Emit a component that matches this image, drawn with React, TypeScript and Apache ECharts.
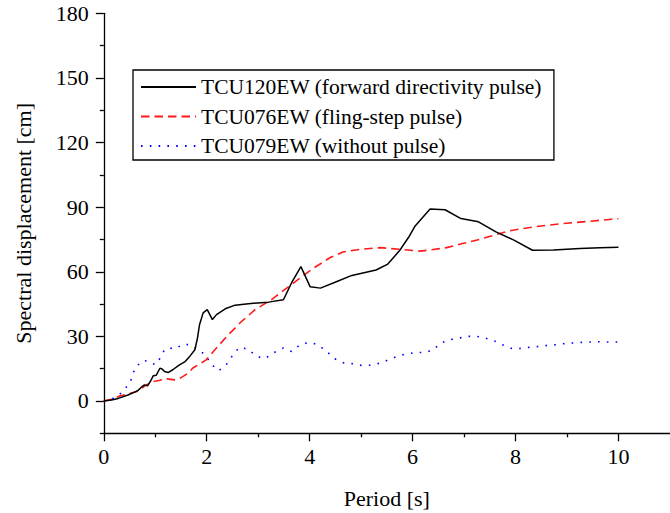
import React, { useEffect, useRef } from 'react';
import * as echarts from 'echarts';

// TCU120EW (forward directivity pulse)
const periods120 = [0, 0.15, 0.28, 0.47, 0.66, 0.73, 0.79, 0.85, 0.91, 0.96, 1.02, 1.09, 1.13, 1.18, 1.25, 1.34, 1.47, 1.58, 1.67, 1.77, 1.82, 1.86, 1.93, 2.01, 2.11, 2.19, 2.36, 2.55, 2.81, 3.2, 3.49, 3.65, 3.83, 4.01, 4.21, 4.53, 4.82, 5.29, 5.51, 5.74, 5.92, 6.05, 6.34, 6.63, 6.94, 7.28, 7.62, 7.96, 8.33, 8.74, 9.25, 9.64, 10.0];
const disp120 = [0, 0.5, 1.2, 2.8, 4.8, 6.4, 7.5, 7.0, 9.3, 11.7, 12.0, 15.2, 14.9, 13.7, 13.2, 14.5, 16.8, 18.3, 20.7, 23.8, 29.2, 35.4, 40.9, 42.4, 37.8, 40.1, 42.8, 44.5, 45.2, 45.9, 47.0, 54.9, 62.4, 53.0, 52.4, 55.5, 58.3, 60.8, 63.4, 69.6, 75.9, 81.3, 89.1, 88.8, 84.7, 83.2, 78.5, 74.8, 70.0, 70.1, 70.8, 71.2, 71.4];

// TCU076EW (fling-step pulse)
const periods076 = [0, 0.15, 0.31, 0.44, 0.63, 0.83, 0.96, 1.09, 1.18, 1.38, 1.47, 1.64, 1.73, 1.89, 1.99, 2.13, 2.39, 2.68, 2.94, 3.26, 3.52, 3.81, 4.07, 4.4, 4.65, 4.98, 5.37, 5.76, 6.14, 6.34, 6.66, 6.99, 7.31, 7.64, 7.89, 8.15, 8.41, 8.93, 9.38, 9.87, 10.0];
const disp076 = [0, 0.8, 2.3, 3.1, 4.3, 7.5, 9.0, 9.6, 10.4, 9.8, 10.4, 12.9, 15.3, 17.6, 19.1, 23.0, 30.0, 37.0, 42.4, 47.1, 51.8, 57.0, 61.6, 66.6, 69.2, 70.4, 71.2, 70.4, 69.6, 70.1, 71.2, 73.2, 75.1, 77.4, 79.0, 80.1, 81.0, 82.4, 83.3, 84.4, 84.6];

// TCU079EW (without pulse)
const periods079 = [0, 0.18, 0.31, 0.42, 0.52, 0.57, 0.63, 0.7, 0.76, 0.9, 1.0, 1.09, 1.18, 1.28, 1.38, 1.54, 1.67, 1.82, 1.97, 2.08, 2.23, 2.37, 2.49, 2.63, 2.8, 2.97, 3.13, 3.31, 3.49, 3.65, 3.83, 4.01, 4.17, 4.33, 4.49, 4.67, 4.85, 5.01, 5.19, 5.37, 5.53, 5.7, 5.87, 6.05, 6.21, 6.39, 6.55, 6.73, 6.9, 7.07, 7.25, 7.41, 7.58, 7.75, 7.93, 8.09, 8.26, 8.44, 8.61, 8.78, 8.94, 9.11, 9.29, 9.46, 9.62, 9.79, 10.0];
const disp079 = [0, 1.2, 3.1, 5.9, 9.0, 12.9, 16.3, 17.3, 18.8, 18.3, 16.8, 19.7, 23.8, 24.6, 24.1, 26.4, 26.1, 24.1, 21.5, 17.3, 14.0, 16.5, 20.7, 24.9, 24.1, 20.7, 19.7, 22.5, 24.6, 23.0, 26.4, 27.2, 26.1, 23.0, 19.6, 17.6, 17.3, 16.5, 16.6, 17.6, 19.1, 20.7, 21.8, 22.5, 22.5, 23.5, 26.9, 28.5, 29.2, 30.0, 30.0, 29.2, 28.0, 26.1, 24.4, 24.4, 24.9, 25.3, 25.8, 26.1, 26.6, 26.9, 27.2, 27.4, 27.5, 27.4, 27.4];

const seriesNames = ['TCU120EW (forward directivity pulse)', 'TCU076EW (fling-step pulse)', 'TCU079EW (without pulse)'];

const xMajorTicks = [0, 2, 4, 6, 8, 10];
const xMinorTicks = [1, 3, 5, 7, 9];
const yMajorTicks = [0, 30, 60, 90, 120, 150, 180];
const yMinorTicks = [-15, 15, 45, 75, 105, 135, 165];

const FONT = 'Liberation Serif';

export default function App() {
  const ref = useRef<HTMLDivElement>(null);
  useEffect(() => {
    const chart = echarts.init(ref.current as HTMLDivElement, null, { renderer: 'svg' });
    const pair = (xs: number[], ys: number[]) => xs.map((x, i) => [x, ys[i]]);
    const axisLineStyle = { color: '#000', width: 1.3 };
    chart.setOption({
      animation: false,
      backgroundColor: '#fff',
      grid: { left: 103.8, right: 0.1, top: 13.3, bottom: 79.7, containLabel: false, outerBoundsMode: 'none' },
      legend: {
        left: 133,
        top: 70,
        orient: 'vertical',
        padding: [6, 12, 3, 7],
        borderColor: '#000',
        borderWidth: 1.3,
        backgroundColor: '#fff',
        itemWidth: 55,
        itemHeight: 14,
        itemGap: 7.5,
        itemStyle: { opacity: 0, color: 'rgba(0,0,0,0)', borderWidth: 0 },
        textStyle: { fontFamily: FONT, fontSize: 21.5, color: '#000', lineHeight: 22 },
        data: seriesNames,
      },
      xAxis: [
        {
          type: 'value', min: 0, max: 11, position: 'bottom',
          name: 'Period [s]', nameLocation: 'middle', nameGap: 54,
          nameTextStyle: { fontFamily: FONT, fontSize: 22, color: '#000' },
          axisLine: { show: true, onZero: false, lineStyle: axisLineStyle },
          axisTick: { show: true, length: 8, customValues: xMajorTicks, lineStyle: axisLineStyle },
          axisLabel: { show: true, customValues: xMajorTicks, margin: 12, fontFamily: FONT, fontSize: 22, color: '#000' },
          splitLine: { show: false },
        },
        {
          type: 'value', min: 0, max: 11, position: 'bottom',
          axisLine: { show: false, onZero: false },
          axisTick: { show: true, length: 4, customValues: xMinorTicks, lineStyle: axisLineStyle },
          axisLabel: { show: false },
          splitLine: { show: false },
        },
      ],
      yAxis: [
        {
          type: 'value', min: -15, max: 180, position: 'left',
          name: 'Spectral displacement [cm]', nameLocation: 'middle', nameGap: 69, nameRotate: 90,
          nameTextStyle: { fontFamily: FONT, fontSize: 22, color: '#000' },
          axisLine: { show: true, onZero: false, lineStyle: axisLineStyle },
          axisTick: { show: true, length: 8, customValues: yMajorTicks, lineStyle: axisLineStyle },
          axisLabel: { show: true, customValues: yMajorTicks, margin: 15, fontFamily: FONT, fontSize: 22, color: '#000' },
          splitLine: { show: false },
        },
        {
          type: 'value', min: -15, max: 180, position: 'left',
          axisLine: { show: false, onZero: false },
          axisTick: { show: true, length: 4, customValues: yMinorTicks, lineStyle: axisLineStyle },
          axisLabel: { show: false },
          splitLine: { show: false },
        },
      ],
      series: [
        {
          name: seriesNames[0], type: 'line', xAxisIndex: 0, yAxisIndex: 0, symbol: 'none',
          data: pair(periods120, disp120), z: 3,
          lineStyle: { color: '#000', width: 1.5, type: 'solid' }, itemStyle: { color: '#000' },
        },
        {
          name: seriesNames[1], type: 'line', xAxisIndex: 0, yAxisIndex: 0, symbol: 'none',
          data: pair(periods076, disp076), z: 2,
          lineStyle: { color: '#ff1a1a', width: 1.6, type: [8.5, 5] }, itemStyle: { color: '#ff1a1a' },
        },
        {
          name: seriesNames[2], type: 'line', xAxisIndex: 0, yAxisIndex: 0, symbol: 'none',
          data: pair(periods079, disp079), z: 1,
          lineStyle: { color: '#0000ff', width: 1.6, type: [1.6, 7.2] }, itemStyle: { color: '#0000ff' },
        },
      ],
    });
    return () => chart.dispose();
  }, []);
  return <div ref={ref} style={{ position: 'fixed', left: 0, top: 0, width: 670, height: 513 }} />;
}
